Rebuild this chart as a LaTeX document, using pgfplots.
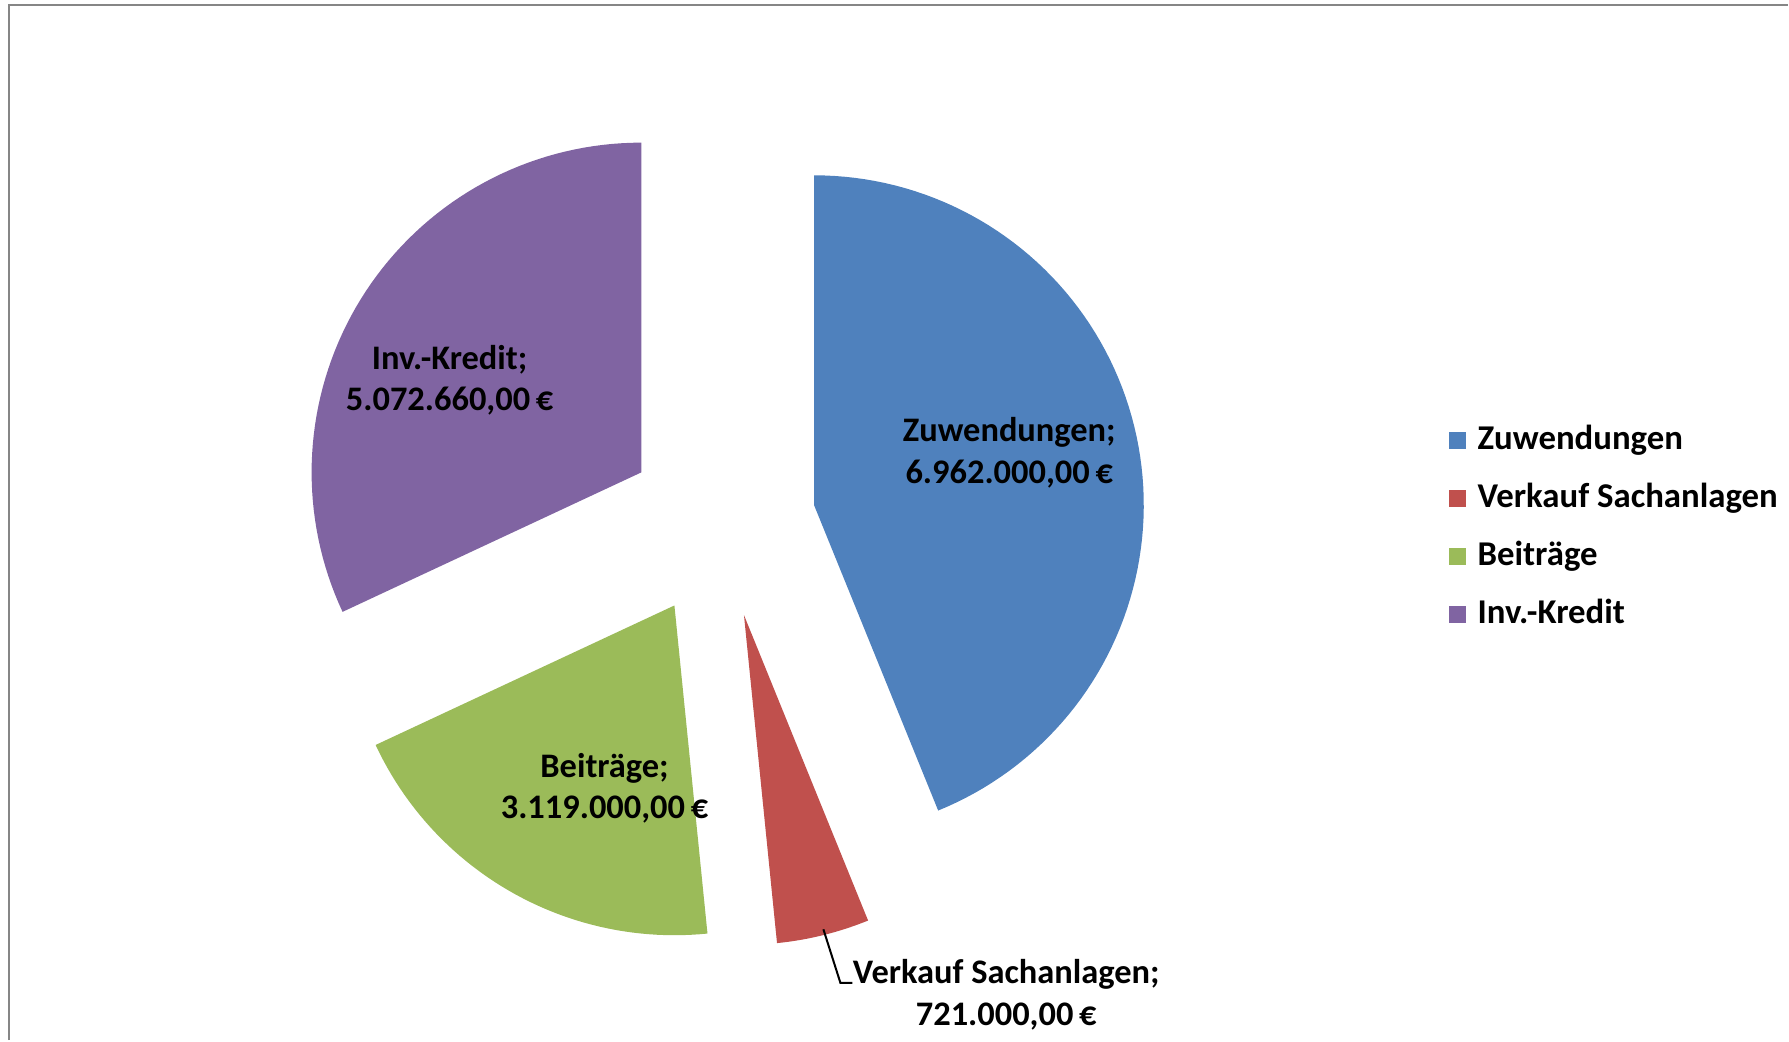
\documentclass[border=0pt]{standalone}
\usepackage{fontspec}
\setmainfont{Carlito}
\usepackage{pgfplots}
\usepackage{pgfplotstable}
\pgfplotsset{compat=1.18}

\definecolor{cZuw}{HTML}{4F81BD}
\definecolor{cVerk}{HTML}{C0504D}
\definecolor{cBeit}{HTML}{9BBB59}
\definecolor{cKred}{HTML}{8064A2}
\definecolor{frame}{HTML}{868686}

% values in thousand euro
\pgfplotstableread{
idx value
0 6962
1 721
2 3119
3 5072.66
}\pietbl

\begin{document}
\begin{tikzpicture}
\pgfplotstablegetelem{0}{value}\of\pietbl \let\vA\pgfplotsretval
\pgfplotstablegetelem{1}{value}\of\pietbl \let\vB\pgfplotsretval
\pgfplotstablegetelem{2}{value}\of\pietbl \let\vC\pgfplotsretval
\pgfplotstablegetelem{3}{value}\of\pietbl \let\vD\pgfplotsretval
\pgfmathsetmacro\tot{\vA+\vB+\vC+\vD}
% centre, radius and explosion in picture pixels
\def\cx{721.7}\def\cy{-523.6}\def\rad{330}\def\expl{94.7}
% start / end angles, clockwise from 12 o'clock
\pgfmathsetmacro\sA{90}
\pgfmathsetmacro\eA{\sA-\vA/\tot*360}
\pgfmathsetmacro\eB{\eA-\vB/\tot*360}
\pgfmathsetmacro\eC{\eB-\vC/\tot*360}
\pgfmathsetmacro\eD{\eC-\vD/\tot*360}
\pgfmathsetmacro\axA{\cx+\expl*cos((\sA+\eA)/2)}\pgfmathsetmacro\ayA{\cy+\expl*sin((\sA+\eA)/2)}
\pgfmathsetmacro\axB{\cx+\expl*cos((\eA+\eB)/2)}\pgfmathsetmacro\ayB{\cy+\expl*sin((\eA+\eB)/2)}
\pgfmathsetmacro\axC{\cx+\expl*cos((\eB+\eC)/2)}\pgfmathsetmacro\ayC{\cy+\expl*sin((\eB+\eC)/2)}
\pgfmathsetmacro\axD{\cx+\expl*cos((\eC+\eD)/2)}\pgfmathsetmacro\ayD{\cy+\expl*sin((\eC+\eD)/2)}
\begin{axis}[
    scale only axis,
    width=17.89cm, height=10.41cm,
    xmin=0, xmax=1789, ymin=-1041, ymax=0,
    hide axis, clip=false,
    legend image code/.code={\fill[#1] (0cm,-0.085cm) rectangle (0.17cm,0.085cm);},
    legend style={
        at={(axis cs:1449,-424)}, anchor=north west,
        draw=none, fill=none,
        font=\fontsize{9.9}{12}\selectfont\bfseries,
        row sep=0.26cm,
        inner sep=0pt,
        nodes={inner sep=0pt, text height=0.25cm, text depth=0.07cm},
        legend cell align=left,
        /tikz/every odd column/.append style={column sep=0.12cm},
    },
]
\path (axis cs:0,0) rectangle (axis cs:1789,-1041);
\draw[frame, line width=0.027cm] (axis cs:9,-1041) -- (axis cs:9,-5) -- (axis cs:1789,-5);

\addplot[fill=cZuw, draw=none, domain=\eA:\sA, samples=90, variable=\t]
    ({\axA+\rad*cos(\t)}, {\ayA+\rad*sin(\t)}) -- (axis cs:\axA,\ayA) -- cycle;
\addlegendentry{Zuwendungen}
\addplot[fill=cVerk, draw=none, domain=\eB:\eA, samples=20, variable=\t]
    ({\axB+\rad*cos(\t)}, {\ayB+\rad*sin(\t)}) -- (axis cs:\axB,\ayB) -- cycle;
\addlegendentry{Verkauf Sachanlagen}
\addplot[fill=cBeit, draw=none, domain=\eC:\eB, samples=50, variable=\t]
    ({\axC+\rad*cos(\t)}, {\ayC+\rad*sin(\t)}) -- (axis cs:\axC,\ayC) -- cycle;
\addlegendentry{Beiträge}
\addplot[fill=cKred, draw=none, domain=\eD:\eC, samples=70, variable=\t]
    ({\axD+\rad*cos(\t)}, {\ayD+\rad*sin(\t)}) -- (axis cs:\axD,\ayD) -- cycle;
\addlegendentry{Inv.-Kredit}

\begin{scope}[every node/.style={align=center, font=\fontsize{9.8}{11.8}\selectfont\bfseries, inner sep=0pt}]
\node at (axis cs:1010,-453) {Zuwendungen;\\6.962.000,00\,€};
\node at (axis cs:450,-380.5) {Inv.-Kredit;\\5.072.660,00\,€};
\node at (axis cs:605,-789) {Beiträge;\\3.119.000,00\,€};
\node at (axis cs:1007,-995.5) {Verkauf Sachanlagen;\\721.000,00\,€};
\end{scope}
\draw[black, line width=0.02cm] (axis cs:824,-930) -- (axis cs:841,-983.5) -- (axis cs:853,-983.5);
\end{axis}
\end{tikzpicture}
\end{document}
